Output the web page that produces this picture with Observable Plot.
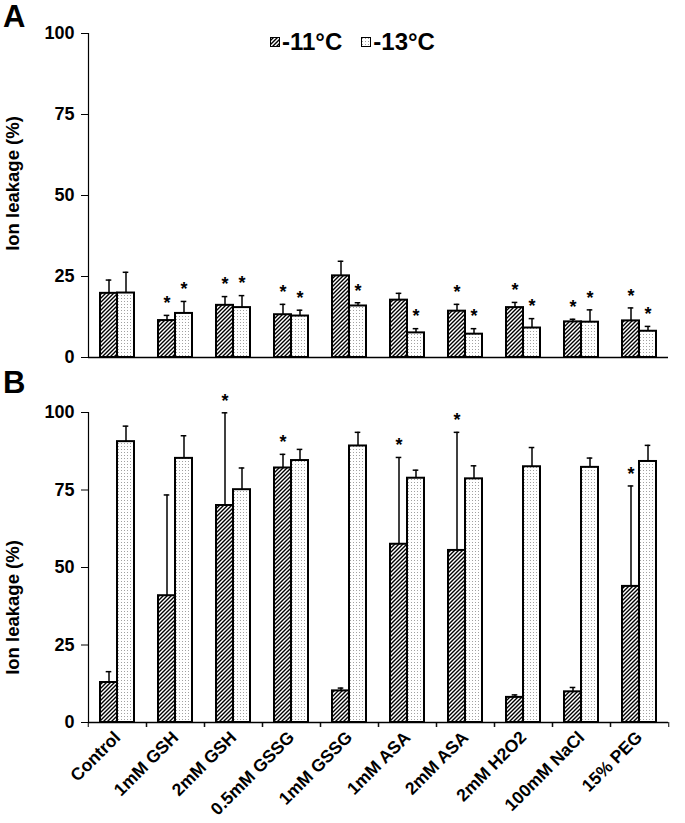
<!DOCTYPE html>
<html>
<head>
<meta charset="utf-8">
<script src="https://cdn.jsdelivr.net/npm/d3@7"></script>
<script src="https://cdn.jsdelivr.net/npm/@observablehq/plot@0.6"></script>
<style>
  body { margin: 0; background: #fff; font-family: "Liberation Sans", Arial, sans-serif; }
  #wrap { position: relative; width: 685px; height: 823px; overflow: hidden; }
  .panel { position: absolute; left: 0; }
  .plabel { position: absolute; left: 3px; font-weight: bold; font-size: 31px; line-height: 1; }
  #legend { position: absolute; left: 270px; top: 30px; display: flex; align-items: center;
            font-weight: bold; font-size: 24px; line-height: 24px; }
  #legend .item { display: flex; align-items: center; }
  #legend svg { margin-right: 2px; }
</style>
</head>
<body>
<svg width="0" height="0" style="position:absolute">
  <defs>
    <pattern id="hatch" patternUnits="userSpaceOnUse" width="4" height="4">
      <rect width="4" height="4" fill="#fff"/>
      <path d="M-1,1 l2,-2 M0,4 l4,-4 M3,5 l2,-2" stroke="#000" stroke-width="1.4"/>
    </pattern>
    <pattern id="dots" patternUnits="userSpaceOnUse" width="3" height="3">
      <rect width="3" height="3" fill="#fff"/>
      <rect x="1" y="1" width="0.9" height="0.9" fill="#8a8a8a"/>
    </pattern>
  </defs>
</svg>
<div id="wrap">
  <div id="panelA" class="panel" style="top:0"></div>
  <div id="panelB" class="panel" style="top:370px"></div>
  <div class="plabel" style="top:1px">A</div>
  <div class="plabel" style="top:367px">B</div>
  <div id="legend">
    <span class="item"><svg width="10" height="10"><rect x="0.5" y="0.5" width="9" height="9" fill="url(#hatch)" stroke="#000"/></svg>-11°C</span>
    <span class="item" style="margin-left:19px"><svg width="10" height="10"><rect x="0.5" y="0.5" width="9" height="9" fill="url(#dots)" stroke="#000"/></svg>-13°C</span>
  </div>
</div>
<script>
// ---------- data ----------
const categories = ["Control", "1mM GSH", "2mM GSH", "0.5mM GSSG", "1mM GSSG",
                    "1mM ASA", "2mM ASA", "2mM H2O2", "100mM NaCl", "15% PEG"];
const series = ["-11°C", "-13°C"];
const yTicks = [0, 25, 50, 75, 100];
const yLabel = "Ion leakage (%)";

// Panel A
const a11 = [19.8, 11.4, 16.1, 13.2, 25.2, 17.7, 14.3, 15.4, 11.0, 11.3];
const a11se = [4.1, 1.6, 2.7, 3.2, 4.5, 2.1, 2.1, 1.6, 0.8, 4.0];
const a11sig = [0, 1, 1, 1, 0, 0, 1, 1, 1, 1];
const a13 = [19.9, 13.6, 15.4, 12.8, 15.9, 7.6, 7.2, 9.1, 10.9, 8.1];
const a13se = [6.4, 3.7, 3.7, 1.8, 1.0, 1.3, 1.7, 2.9, 3.8, 1.5];
const a13sig = [0, 1, 1, 1, 1, 1, 1, 1, 1, 1];

// Panel B
const b11 = [12.9, 40.9, 70.0, 82.1, 10.2, 57.5, 55.5, 8.1, 9.9, 43.9];
const b11se = [3.5, 32.5, 29.9, 4.4, 0.9, 28.0, 38.1, 0.8, 1.4, 32.4];
const b11sig = [0, 0, 1, 1, 0, 1, 1, 0, 0, 1];
const b13 = [90.6, 85.2, 75.1, 84.5, 89.2, 78.8, 78.6, 82.5, 82.3, 84.2];
const b13se = [5.0, 7.3, 7.0, 3.6, 4.4, 2.6, 4.2, 6.2, 3.0, 5.2];
const b13sig = [0, 0, 0, 0, 0, 0, 0, 0, 0, 0];

function rows(m11, s11, g11, m13, s13, g13) {
  const out = [];
  categories.forEach((c, i) => {
    out.push({cat: c, series: series[0], mean: m11[i], se: s11[i], sig: g11[i]});
    out.push({cat: c, series: series[1], mean: m13[i], se: s13[i], sig: g13[i]});
  });
  return out;
}

const W = 685, ML = 85, MR = 15;
const FONT = "'Liberation Sans', Arial, sans-serif";

function panel(data, {height, mt, mb, xlabels, labelDy}) {
  const step = (W - ML - MR) / categories.length;
  const marks = [
    Plot.barY(data, {fx: "cat", x: "series", y: "mean", fill: "series", stroke: "black", strokeWidth: 2}),
    Plot.ruleX(data, {fx: "cat", x: "series", y1: "mean", y2: d => d.mean + d.se, stroke: "black", strokeWidth: 1.5}),
    Plot.tickY(data, {fx: "cat", x: "series", y: d => d.mean + d.se, stroke: "black", strokeWidth: 1.5, insetLeft: 5.7, insetRight: 5.7}),
    Plot.text(data.filter(d => d.sig), {fx: "cat", x: "series", y: d => d.mean + d.se, text: () => "*",
      fontSize: 18, fontWeight: "bold", dy: -12}),
    Plot.ruleY([0], {stroke: "black", strokeWidth: 1.5}),
    Plot.frame({anchor: "left", facetAnchor: "left", stroke: "black", strokeWidth: 1.2}),
    Plot.axisY({ticks: yTicks, tickSize: 7, tickPadding: 7, fontSize: 18, fontWeight: "bold", label: null}),
    Plot.text([yLabel], {frameAnchor: "left", facetAnchor: "left", textAnchor: "middle", rotate: -90,
      dx: -75, dy: labelDy, fontSize: 18.5, fontWeight: "bold"})
  ];
  if (xlabels) {
    marks.push(
      Plot.axisFx({anchor: "bottom", tickSize: 5, tickFormat: () => "", dx: -step / 2, label: null}),
      Plot.axisFx({anchor: "bottom", tickSize: 5, tickFormat: () => "", dx: step / 2, label: null}),
      Plot.axisFx({anchor: "bottom", tickSize: 0, tickRotate: -45, tickPadding: 12, fontSize: 17.5, fontWeight: "bold", label: null})
    );
  }
  return Plot.plot({
    width: W, height,
    marginLeft: ML, marginRight: MR, marginTop: mt, marginBottom: mb,
    style: {fontFamily: FONT, color: "black", background: "transparent", overflow: "visible"},
    fx: {domain: categories, padding: 0, axis: null, label: null},
    x: {domain: series, paddingInner: 0, paddingOuter: 0.686, axis: null},
    y: {domain: [0, 100], axis: null},
    color: {domain: series, range: ["url(#hatch)", "url(#dots)"]},
    marks
  });
}

document.getElementById("panelA").append(
  panel(rows(a11, a11se, a11sig, a13, a13se, a13sig), {height: 370, mt: 33, mb: 13, xlabels: false, labelDy: -12})
);
document.getElementById("panelB").append(
  panel(rows(b11, b11se, b11sig, b13, b13se, b13sig), {height: 453, mt: 42, mb: 101, xlabels: true, labelDy: 40})
);
</script>
</body>
</html>
